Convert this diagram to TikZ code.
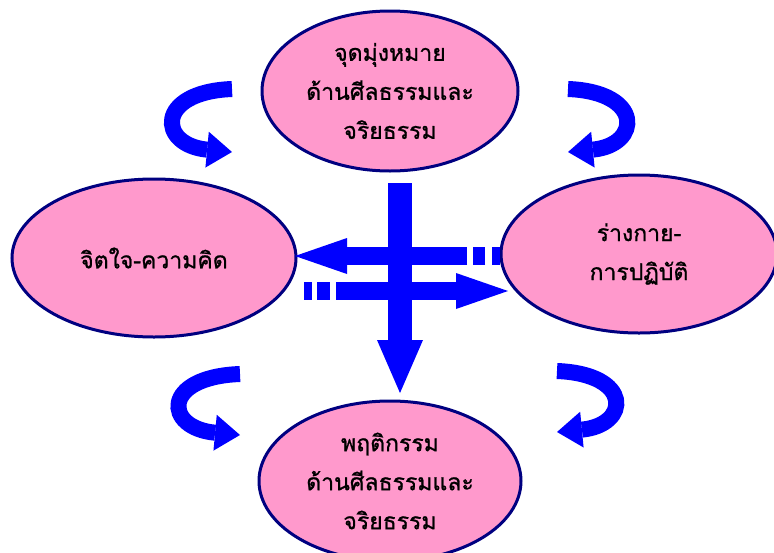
\documentclass[tikz,border=0pt]{standalone}
\usepackage{fontspec}
\newfontfamily\thaifont[Script=Thai,FakeBold=1]{Loma}
\usetikzlibrary{shapes.geometric,arrows.meta}
\definecolor{pinkfill}{RGB}{255,153,204}
\definecolor{navyline}{RGB}{0,0,128}
\begin{document}
\begin{tikzpicture}[x=1pt,y=-1pt]
\tikzstyle{goal}=[ellipse,draw=navyline,line width=3pt,fill=pinkfill,inner sep=0pt,align=center,font=\thaifont\fontsize{23}{39}\selectfont]
\tikzstyle{bigarrow}=[blue,line width=18pt,-{Triangle[width=36pt,length=52pt,line width'=0pt]}]
\tikzstyle{turn}=[blue,line width=16pt,-{Triangle[width=36pt,length=25pt,line width'=0pt]}]
\useasboundingbox (0,0) rectangle (774,552);
\node[goal,minimum width=256pt,minimum height=160pt] (aim) at (390,91) {จุดมุ่งหมาย\\ด้านศีลธรรมและ\\จริยธรรม};
\node[goal,minimum width=284pt,minimum height=158pt] (mind) at (154,258) {จิตใจ-ความคิด};
\node[goal,minimum width=276pt,minimum height=158pt] (body) at (639,254) {ร่างกาย-\\การปฏิบัติ};
\node[goal,minimum width=262pt,minimum height=160pt] (act) at (390,481) {พฤติกรรม\\ด้านศีลธรรมและ\\จริยธรรม};
\coordinate (vtop) at (400,183);
\coordinate (vtip) at (400,393);
\coordinate (utail) at (500,256);
\coordinate (utip) at (295,256);
\coordinate (ltail) at (304,291);
\coordinate (ltip) at (508,291);
\draw[bigarrow,dash pattern=on 8pt off 7pt on 12pt off 6pt on 400pt] (utail) -- (utip);
\draw[bigarrow,dash pattern=on 8pt off 5pt on 13pt off 6pt on 400pt] (ltail) -- (ltip);
\draw[bigarrow,line width=24pt,-{Triangle[width=46pt,length=53pt,line width'=0pt]}] (vtop) -- (vtip);
\coordinate (tl1) at (232,89);
\coordinate (tl2) at (232,152);
\coordinate (tr1) at (568,89);
\coordinate (tr2) at (568,152);
\coordinate (bl1) at (240,374);
\coordinate (bl2) at (240,435);
\coordinate (br1) at (557,371);
\coordinate (br2) at (557,432);
\draw[turn] (tl1) .. controls (155,92) and (158,145) .. (tl2);
\draw[turn] (tr1) .. controls (644,92) and (641,145) .. (tr2);
\draw[turn] (bl1) .. controls (161,377) and (164,428) .. (bl2);
\draw[turn] (br1) .. controls (633,374) and (630,425) .. (br2);
\end{tikzpicture}
\end{document}
